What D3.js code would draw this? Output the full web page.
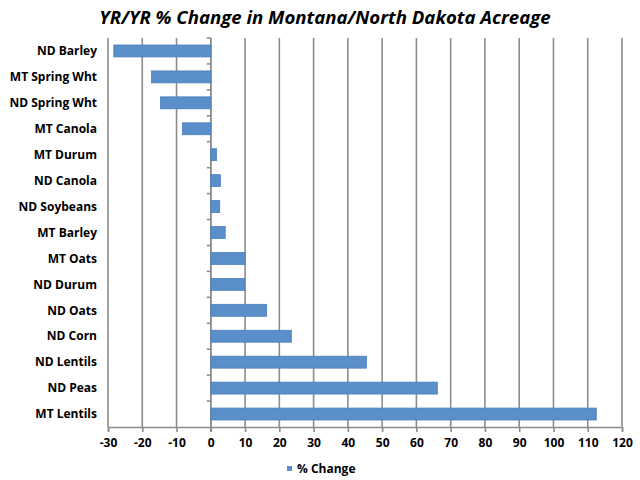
<!DOCTYPE html>
<html lang="en">
<head>
    <meta charset="UTF-8">
    <title>YR/YR % Change in Montana/North Dakota Acreage</title>
    <style>
        body { margin: 0; background: #fff; }
        #stage { width: 640px; height: 480px; }
        text { font-family: "Open Sans", "Noto Sans", sans-serif; font-weight: bold; fill: #000; }
    </style>
</head>
<body>
    <div id="stage"></div>

    <script src="https://d3js.org/d3.v7.min.js"></script>
    <script>
        // data
        const crops = ['ND Barley', 'MT Spring Wht', 'ND Spring Wht', 'MT Canola', 'MT Durum',
            'ND Canola', 'ND Soybeans', 'MT Barley', 'MT Oats', 'ND Durum', 'ND Oats',
            'ND Corn', 'ND Lentils', 'ND Peas', 'MT Lentils'];
        const pctChange = [-28.3, -17.3, -14.7, -8.3, 1.7, 2.8, 2.6, 4.2, 10.0, 9.9, 16.3,
            23.5, 45.4, 66.1, 112.5];
        const xTicks = [-30, -20, -10, 0, 10, 20, 30, 40, 50, 60, 70, 80, 90, 100, 110, 120];
        const seriesName = '% Change';
        const title = 'YR/YR % Change in Montana/North Dakota Acreage';

        const W = 640, H = 480;
        const plotLeft = 108, plotRight = 622, plotTop = 38, plotBottom = 427;
        const barColor = '#5b8fc9';
        const gridColor = '#8c8c8c';

        const svg = d3.select('#stage').append('svg')
            .attr('width', W)
            .attr('height', H);

        // title
        svg.append('text')
            .attr('x', 325)
            .attr('y', 24)
            .attr('text-anchor', 'middle')
            .attr('font-size', 18.6)
            .attr('font-style', 'italic')
            .text(title);

        const x = d3.scaleLinear().domain([-30, 120]).range([plotLeft, plotRight]);
        const y = d3.scaleBand().domain(crops).range([plotTop, plotBottom]).paddingInner(0.54).paddingOuter(0.27);
        const yBand = d3.scaleBand().domain(crops).range([plotTop, plotBottom]);

        // vertical gridlines
        svg.append('g')
            .selectAll('line')
            .data(xTicks)
            .join('line')
            .attr('x1', d => x(d)).attr('x2', d => x(d))
            .attr('y1', plotTop).attr('y2', plotBottom)
            .attr('stroke', gridColor)
            .attr('stroke-width', 1.6);

        // x axis
        const xAxis = svg.append('g')
            .attr('transform', `translate(0,${plotBottom})`)
            .call(d3.axisBottom(x).tickValues(xTicks).tickFormat(d => String(d)).tickSize(5).tickPadding(6));
        xAxis.select('.domain').attr('stroke', gridColor).attr('stroke-width', 1.6);
        xAxis.selectAll('.tick line').attr('stroke', gridColor).attr('stroke-width', 1.6);
        xAxis.selectAll('.tick text')
            .attr('font-size', 12)
            .attr('font-family', '"Open Sans", "Noto Sans", sans-serif')
            .attr('font-weight', 'bold')
            .attr('fill', '#000');

        // category axis at zero
        const yAxis = svg.append('g')
            .attr('transform', `translate(${x(0)},0)`);
        yAxis.append('line')
            .attr('x1', 0).attr('x2', 0)
            .attr('y1', plotTop).attr('y2', plotBottom + 5)
            .attr('stroke', gridColor)
            .attr('stroke-width', 1.6);
        yAxis.selectAll('.cat-tick')
            .data(crops)
            .join('line')
            .attr('class', 'cat-tick')
            .attr('x1', -4).attr('x2', 0)
            .attr('y1', d => yBand(d)).attr('y2', d => yBand(d))
            .attr('stroke', gridColor)
            .attr('stroke-width', 1.6);

        // category labels on the left
        svg.append('g')
            .selectAll('text')
            .data(crops)
            .join('text')
            .attr('x', 97)
            .attr('y', d => yBand(d) + yBand.bandwidth() / 2)
            .attr('dy', '0.35em')
            .attr('text-anchor', 'end')
            .attr('font-size', 12)
            .text(d => d);

        // bars
        svg.append('g')
            .selectAll('rect')
            .data(crops.map((c, i) => ({ c, v: pctChange[i] })))
            .join('rect')
            .attr('x', d => x(Math.min(0, d.v)))
            .attr('width', d => Math.abs(x(d.v) - x(0)))
            .attr('y', d => y(d.c))
            .attr('height', y.bandwidth())
            .attr('fill', barColor)
            .attr('stroke', '#4a7fbd')
            .attr('stroke-width', 0.8);

        // legend
        const legend = svg.append('g').attr('transform', 'translate(287,466)');
        legend.append('rect')
            .attr('width', 5).attr('height', 5)
            .attr('fill', barColor);
        legend.append('text')
            .attr('x', 10)
            .attr('y', 3)
            .attr('dy', '0.35em')
            .attr('font-size', 12)
            .text(seriesName);
    </script>
</body>
</html>
